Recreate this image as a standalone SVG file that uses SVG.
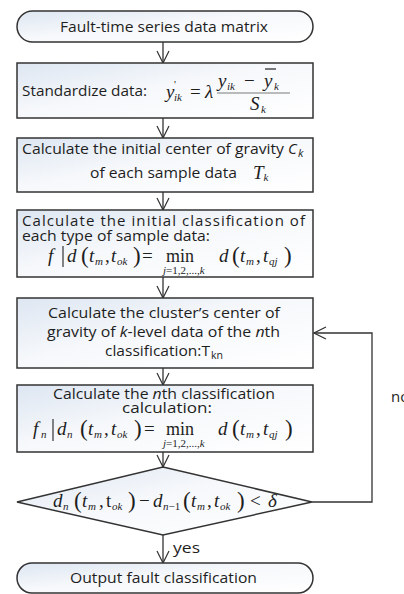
<svg xmlns="http://www.w3.org/2000/svg" width="404" height="594" viewBox="0 0 404 594">
<defs>
<linearGradient id="g" x1="0" y1="0" x2="1" y2="1">
<stop offset="0" stop-color="#dde6f2"/>
<stop offset="0.45" stop-color="#f6f8fb"/>
<stop offset="1" stop-color="#ffffff"/>
</linearGradient>
<marker id="a" viewBox="0 0 14 14" refX="13" refY="7" markerWidth="14" markerHeight="14" markerUnits="userSpaceOnUse" orient="auto">
<path d="M1,1 L13,7 L1,13" fill="none" stroke="#333" stroke-width="1.2"/>
</marker>
<style>
.s{fill:url(#g);stroke:#333;stroke-width:1.5}
.t{font-family:"Open Sans","Liberation Sans",sans-serif;font-size:15px;fill:#1e1e1e}
.m{font-family:"Liberation Serif",serif;font-style:italic;font-size:19px;fill:#1e1e1e}
.u{font-style:normal}
.p{font-style:normal;font-size:23px}
.sb{font-size:11px}
.c{stroke:#333;stroke-width:1.3;fill:none}
</style>
</defs>
<g id="connectors">
<line class="c" x1="163" y1="42" x2="163" y2="63" marker-end="url(#a)"/>
<line class="c" x1="163" y1="118" x2="163" y2="138" marker-end="url(#a)"/>
<line class="c" x1="163" y1="192" x2="163" y2="210" marker-end="url(#a)"/>
<line class="c" x1="163" y1="277" x2="163" y2="298" marker-end="url(#a)"/>
<line class="c" x1="163" y1="368" x2="163" y2="385" marker-end="url(#a)"/>
<line class="c" x1="163" y1="452" x2="163" y2="467" marker-end="url(#a)"/>
<line class="c" x1="163" y1="535" x2="163" y2="563" marker-end="url(#a)"/>
<polyline class="c" points="312,502 372,502 372,333 314,333" marker-end="url(#a)"/>
<text class="t" x="173" y="553" textLength="27" lengthAdjust="spacingAndGlyphs">yes</text>
<text class="t" x="391" y="402">no</text>
</g>
<g id="start">
<rect class="s" x="17" y="11" width="296" height="31" rx="15.5"/>
<text class="t" x="60" y="32" textLength="208" lengthAdjust="spacingAndGlyphs">Fault-time series data matrix</text>
</g>
<g id="standardize">
<rect class="s" x="17" y="63" width="296" height="55"/>
<text class="t" x="22" y="96" textLength="125" lengthAdjust="spacingAndGlyphs">Standardize data:</text>
<text class="m"><tspan x="166" y="98">y</tspan><tspan class="sb u" x="174" y="88">'</tspan><tspan class="sb" x="174" y="101">ik</tspan><tspan class="u" x="190" y="98">=</tspan><tspan x="205" y="98">λ</tspan><tspan x="218" y="87">y</tspan><tspan class="sb" x="227" y="90">ik</tspan><tspan class="u" x="244" y="87">−</tspan><tspan x="264" y="87">y</tspan><tspan class="sb" x="274" y="90">k</tspan><tspan x="250" y="110">S</tspan><tspan class="sb" x="261" y="113">k</tspan></text>
<line x1="265" y1="69" x2="276" y2="69" stroke="#222" stroke-width="1.2"/>
<line x1="217" y1="93" x2="290" y2="93" stroke="#444" stroke-width="0.7"/>
</g>
<g id="initial-center">
<rect class="s" x="17" y="138" width="296" height="54"/>
<text class="t" x="22" y="154" textLength="262" lengthAdjust="spacingAndGlyphs">Calculate the initial center of gravity</text>
<text class="t" x="288" y="154" font-style="italic">C</text>
<text class="t sb" x="298" y="157" font-style="italic">k</text>
<text class="t" x="90" y="178" textLength="147" lengthAdjust="spacingAndGlyphs">of each sample data</text>
<text class="m" x="253" y="179" font-size="13">T<tspan class="sb" font-size="8" dy="2">k</tspan></text>
</g>
<g id="initial-classification">
<rect class="s" x="17" y="210" width="296" height="67"/>
<text class="t" x="22" y="226" textLength="283" lengthAdjust="spacing">Calculate the initial classification of</text>
<text class="t" x="22" y="241" textLength="188" lengthAdjust="spacingAndGlyphs">each type of sample data:</text>
<line x1="63" y1="246" x2="63" y2="267" stroke="#222" stroke-width="1.1"/>
<text class="m"><tspan x="48" y="262">f</tspan><tspan x="67" y="262">d</tspan><tspan class="p" x="81" y="263">(</tspan><tspan x="89" y="262">t</tspan><tspan class="sb" x="95" y="265">m</tspan><tspan class="u" x="105" y="262">,</tspan><tspan x="111" y="262">t</tspan><tspan class="sb" x="117" y="265">ok</tspan><tspan class="p" x="133" y="263">)</tspan><tspan class="u" x="142" y="262">=</tspan><tspan class="u" x="166" y="262" font-size="18">min</tspan><tspan class="sb" x="163" y="274">j<tspan class="u">=1,2,...,</tspan>k</tspan><tspan x="219" y="262">d</tspan><tspan class="p" x="232" y="263">(</tspan><tspan x="240" y="262">t</tspan><tspan class="sb" x="246" y="265">m</tspan><tspan class="u" x="256" y="262">,</tspan><tspan x="263" y="262">t</tspan><tspan class="sb" x="269" y="265">qj</tspan><tspan class="p" x="284" y="263">)</tspan></text>
</g>
<g id="cluster-center">
<rect class="s" x="17" y="298" width="296" height="70"/>
<text class="t" x="48" y="318" textLength="232" lengthAdjust="spacingAndGlyphs">Calculate the cluster’s center of</text>
<text class="t" x="47" y="337" textLength="233" lengthAdjust="spacingAndGlyphs">gravity of <tspan font-style="italic">k</tspan>-level data of the <tspan font-style="italic">n</tspan>th</text>
<text class="t" x="105" y="356" textLength="105" lengthAdjust="spacingAndGlyphs">classification:T</text>
<text class="t sb" x="211" y="359" textLength="12" lengthAdjust="spacingAndGlyphs">kn</text>
</g>
<g id="nth-classification">
<rect class="s" x="17" y="385" width="296" height="67"/>
<text class="t" x="53" y="399" textLength="222" lengthAdjust="spacingAndGlyphs">Calculate the <tspan font-style="italic">n</tspan>th classification</text>
<text class="t" x="122" y="413" textLength="90" lengthAdjust="spacingAndGlyphs">calculation:</text>
<line x1="53" y1="419" x2="53" y2="441" stroke="#222" stroke-width="1.1"/>
<text class="m"><tspan x="33" y="435">f</tspan><tspan class="sb" x="41" y="438">n</tspan><tspan x="57" y="435">d</tspan><tspan class="sb" x="67" y="438">n</tspan><tspan class="p" x="80" y="436">(</tspan><tspan x="88" y="435">t</tspan><tspan class="sb" x="94" y="438">m</tspan><tspan class="u" x="104" y="435">,</tspan><tspan x="111" y="435">t</tspan><tspan class="sb" x="117" y="438">ok</tspan><tspan class="p" x="134" y="436">)</tspan><tspan class="u" x="144" y="435">=</tspan><tspan class="u" x="166" y="435" font-size="18">min</tspan><tspan class="sb" x="163" y="447">j<tspan class="u">=1,2,...,</tspan>k</tspan><tspan x="218" y="435">d</tspan><tspan class="p" x="232" y="436">(</tspan><tspan x="240" y="435">t</tspan><tspan class="sb" x="246" y="438">m</tspan><tspan class="u" x="256" y="435">,</tspan><tspan x="263" y="435">t</tspan><tspan class="sb" x="269" y="438">qj</tspan><tspan class="p" x="285" y="436">)</tspan></text>
</g>
<g id="decision">
<polygon class="s" points="163,467 312,502 163,535 17,502"/>
<text class="m"><tspan x="53" y="507">d</tspan><tspan class="sb" x="63" y="510">n</tspan><tspan class="p" x="74" y="508">(</tspan><tspan x="82" y="507">t</tspan><tspan class="sb" x="88" y="510">m</tspan><tspan class="u" x="99" y="507">,</tspan><tspan class="u" x="106" y="507">t</tspan><tspan class="sb" x="112" y="510">ok</tspan><tspan class="p" x="128" y="508">)</tspan><tspan class="u" x="139" y="507">−</tspan><tspan x="153" y="507">d</tspan><tspan class="sb" x="163" y="510">n<tspan class="u">−1</tspan></tspan><tspan class="p" x="183" y="508">(</tspan><tspan x="191" y="507">t</tspan><tspan class="sb" x="197" y="510">m</tspan><tspan class="u" x="207" y="507">,</tspan><tspan x="214" y="507">t</tspan><tspan class="sb" x="220" y="510">ok</tspan><tspan class="p" x="237" y="508">)</tspan><tspan class="u" x="250" y="507">&lt;</tspan><tspan x="268" y="507">δ</tspan></text>
</g>
<g id="end">
<rect class="s" x="17" y="563" width="296" height="30" rx="15"/>
<text class="t" x="70" y="583" textLength="187" lengthAdjust="spacingAndGlyphs">Output fault classification</text>
</g>
</svg>
